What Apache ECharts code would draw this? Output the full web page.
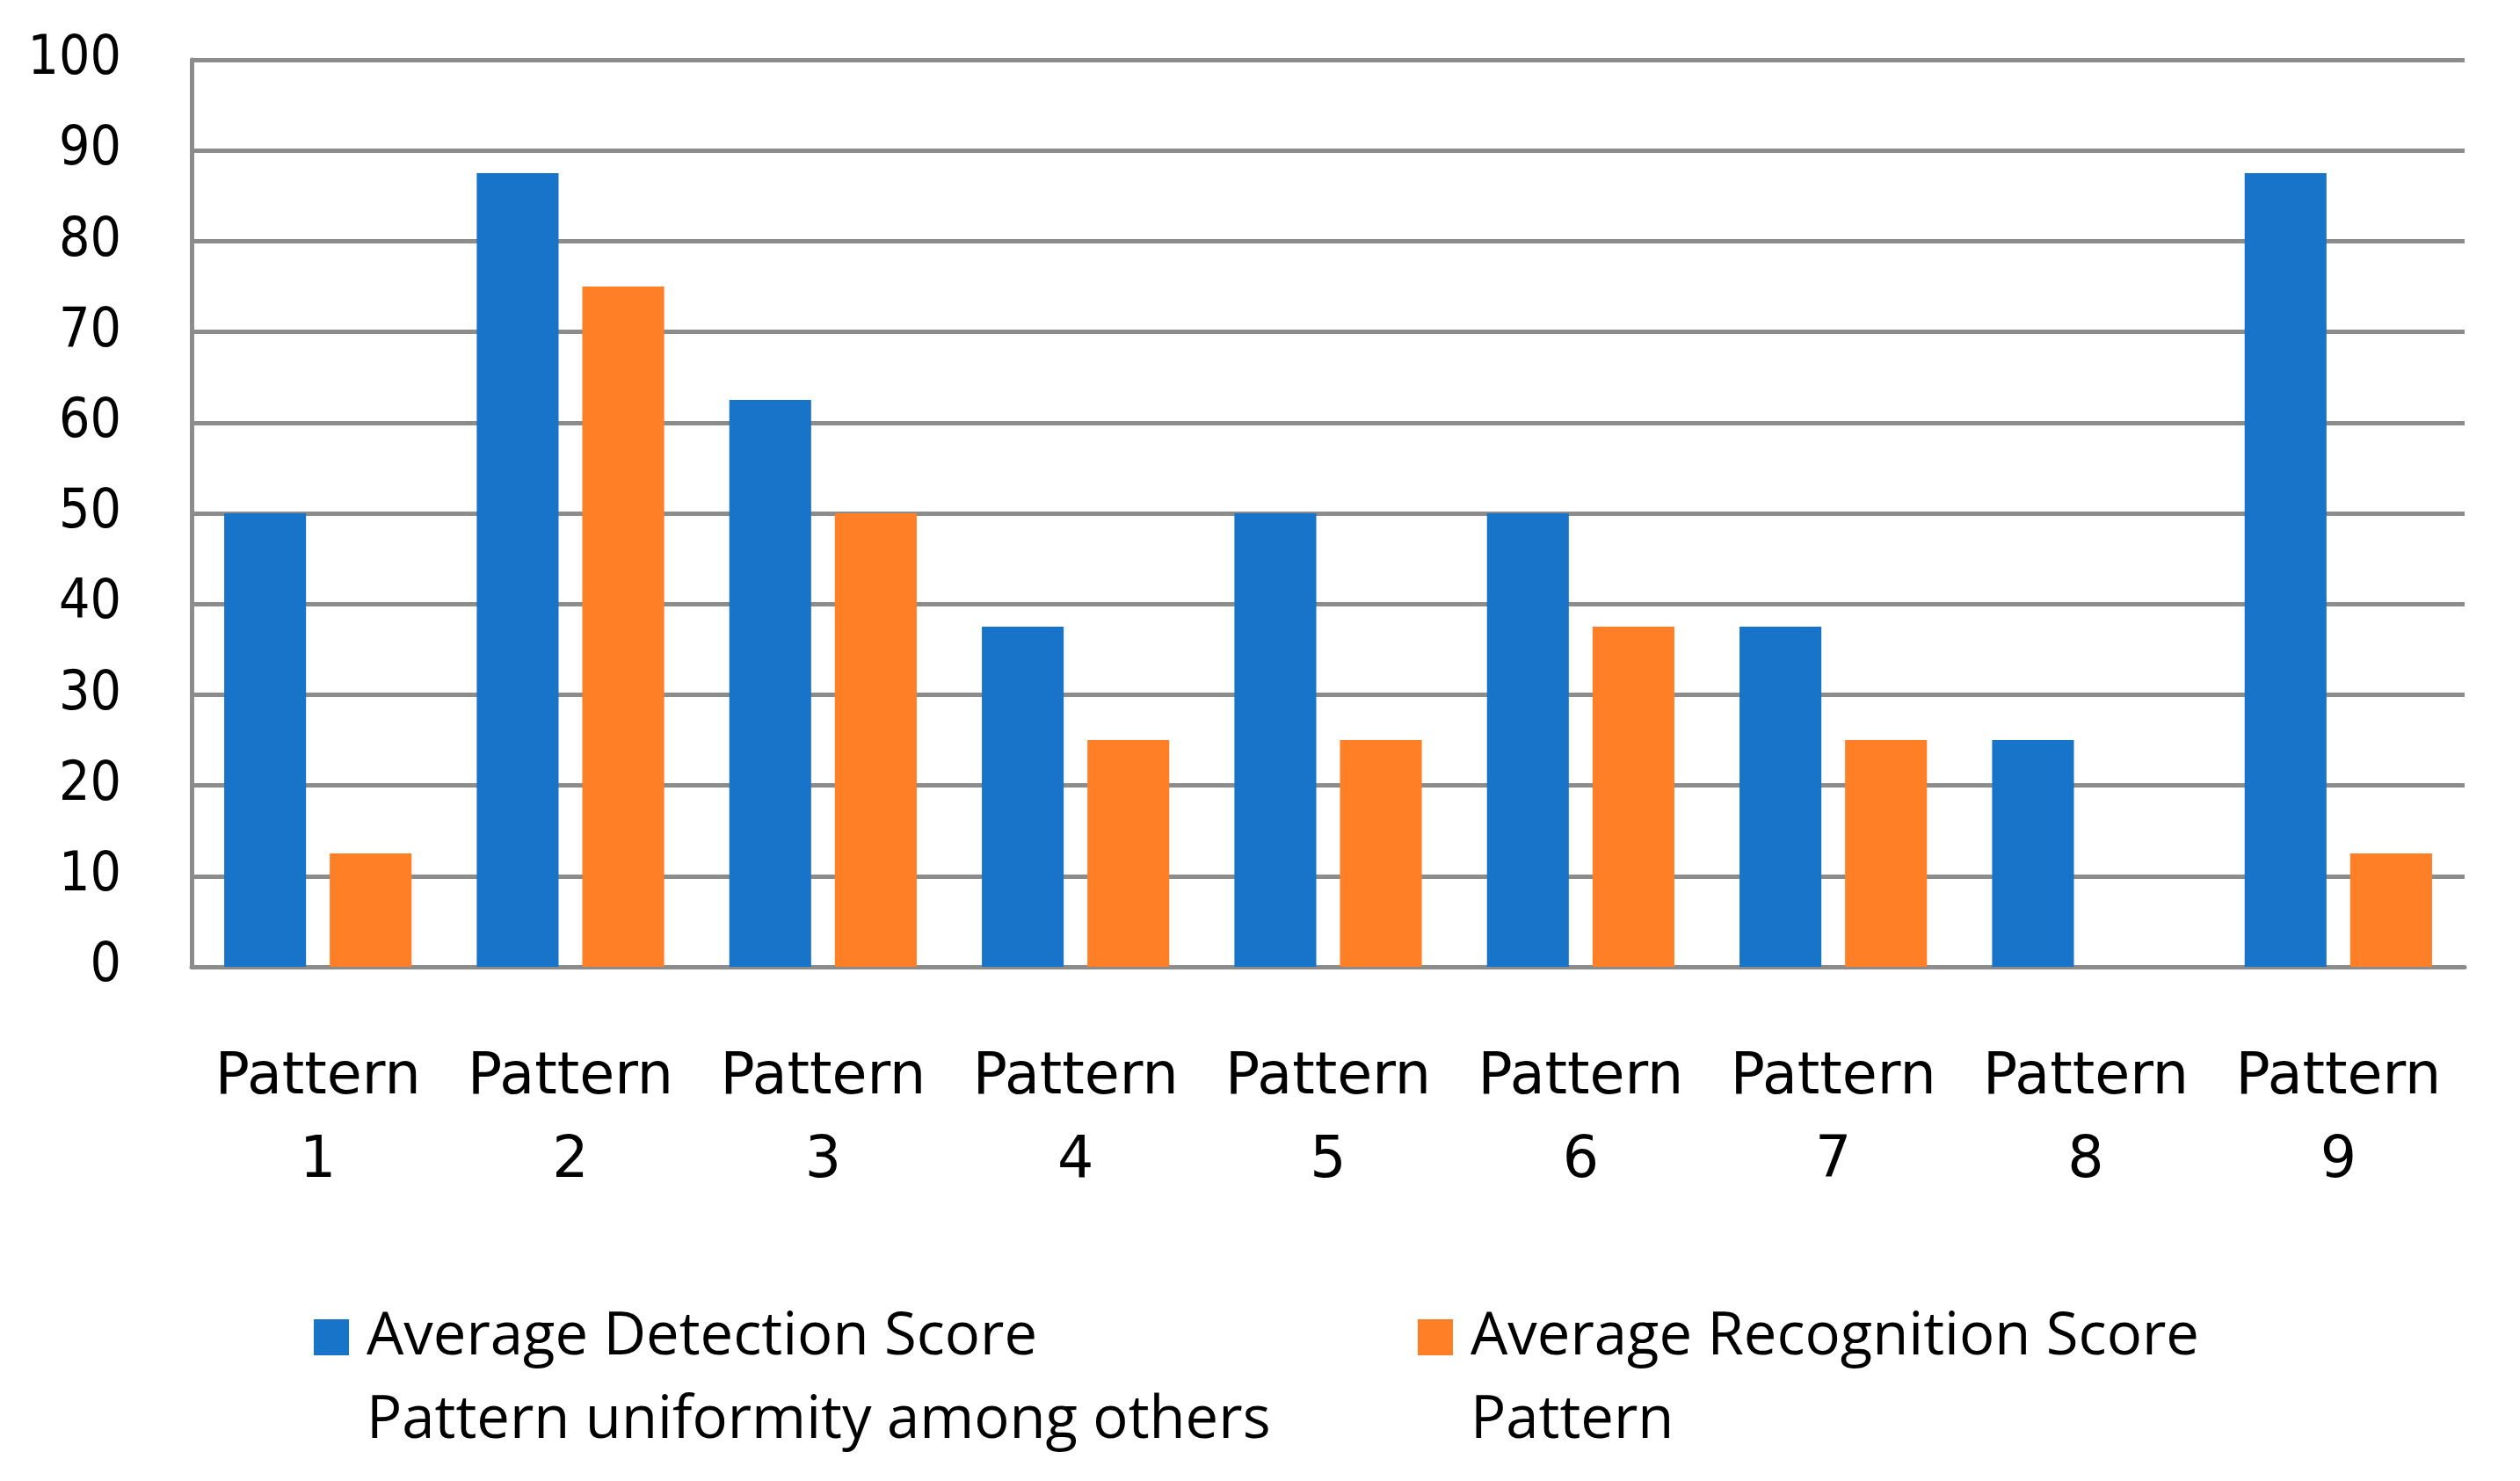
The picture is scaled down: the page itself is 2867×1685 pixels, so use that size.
<!DOCTYPE html>
<html>
<head>
<meta charset="utf-8">
<script src="https://cdn.jsdelivr.net/npm/echarts@6/dist/echarts.min.js"></script>
<style>
html,body{margin:0;padding:0;background:#fff;}
#chart{width:2867px;height:1685px;}
</style>
</head>
<body>
<div id="chart"></div>
<script>
const categories = ['Pattern\n1','Pattern\n2','Pattern\n3','Pattern\n4','Pattern\n5','Pattern\n6','Pattern\n7','Pattern\n8','Pattern\n9'];
const detectionName = 'Average Detection Score\nPattern uniformity among others';
const recognitionName = 'Average Recognition Score\nPattern';
const detectionValues = [50, 87.5, 62.5, 37.5, 50, 50, 37.5, 25, 87.5];
const recognitionValues = [12.5, 75, 50, 25, 25, 37.5, 25, 0, 12.5];

const chart = echarts.init(document.getElementById('chart'));
const legendFormatter = function (name) {
  const parts = name.split('\n');
  return '{p| }\n' + parts.map(function (s) { return '{t|' + s + '}'; }).join('\n');
};
const legendText = {
  rich: {
    p: { fontSize: 67, lineHeight: 95, fontFamily: 'Open Sans' },
    t: { fontSize: 67, lineHeight: 95, fontFamily: 'Open Sans', color: '#000', padding: [0, 0, 0, 15] }
  }
};
chart.setOption({
  animation: false,
  backgroundColor: '#fff',
  grid: { left: 218, right: 63, top: 68, bottom: 585, containLabel: false },
  legend: [
    { data: [detectionName], left: 352, top: 1388, itemWidth: 40, itemHeight: 41, icon: 'rect',
      formatter: legendFormatter, textStyle: legendText },
    { data: [recognitionName], left: 1608, top: 1388, itemWidth: 40, itemHeight: 41, icon: 'rect',
      formatter: legendFormatter, textStyle: legendText }
  ],
  xAxis: {
    type: 'category',
    data: categories,
    axisLine: { lineStyle: { color: '#8c8c8c', width: 5 } },
    axisTick: { show: false },
    axisLabel: { interval: 0, margin: 80, fontSize: 65, lineHeight: 95, color: '#000', fontFamily: 'DejaVu Sans' }
  },
  yAxis: {
    type: 'value',
    min: 0, max: 100, interval: 10,
    axisLine: { show: true, lineStyle: { color: '#8c8c8c', width: 5 } },
    axisTick: { show: false },
    splitLine: { lineStyle: { color: '#8c8c8c', width: 5 } },
    axisLabel: { margin: 80, fontSize: 62, color: '#000', fontFamily: 'DejaVu Sans Condensed' }
  },
  series: [
    { name: detectionName, type: 'bar', data: detectionValues, barGap: '29%', barCategoryGap: '25.8%',
      itemStyle: { color: '#1874C8' } },
    { name: recognitionName, type: 'bar', data: recognitionValues,
      itemStyle: { color: '#FF7F27' } }
  ]
});
</script>
</body>
</html>
